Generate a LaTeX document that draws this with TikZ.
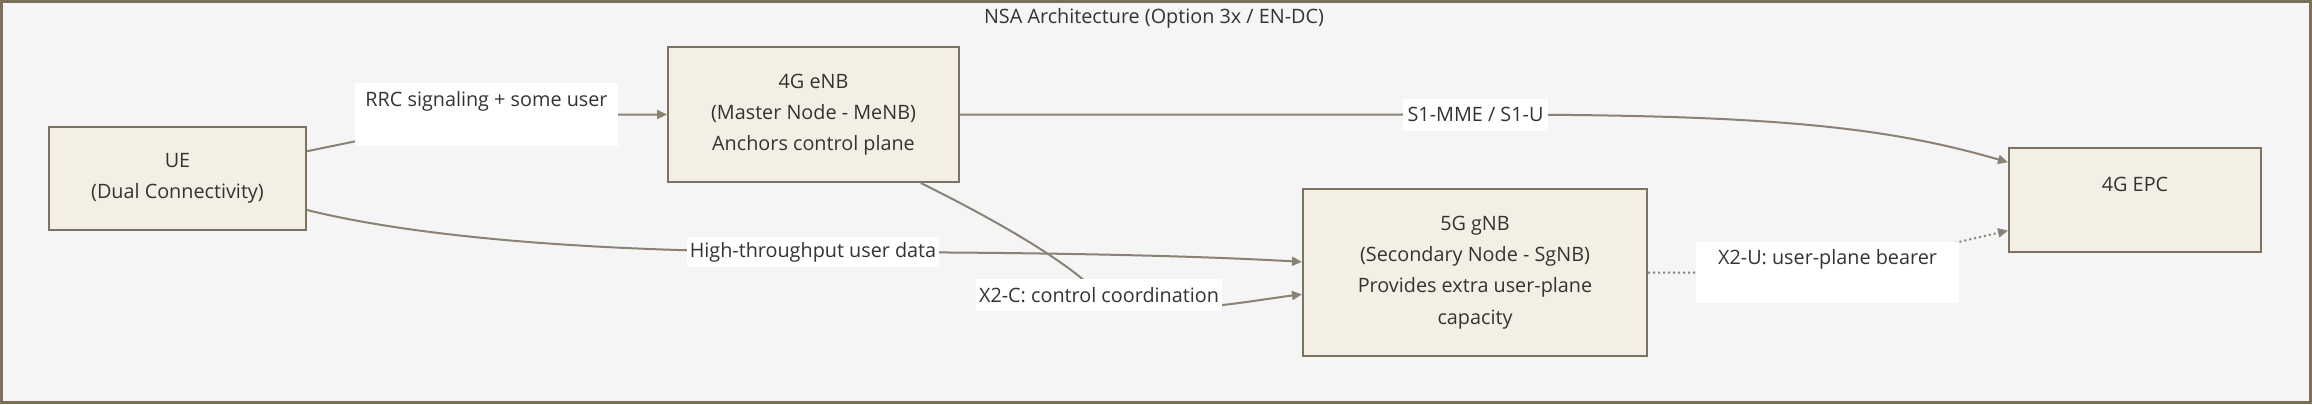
\documentclass[tikz,border=0pt]{standalone}
\usepackage{fontspec}
\setmainfont{Open Sans}
\usetikzlibrary{arrows.meta, positioning, calc}
\definecolor{frameline}{HTML}{7B6F5A}
\definecolor{canvas}{HTML}{F5F5F5}
\definecolor{boxfill}{HTML}{F3EFE4}
\definecolor{boxline}{HTML}{7D7260}
\definecolor{edgeline}{HTML}{8A8275}
\definecolor{labeltext}{HTML}{333333}

\begin{document}
\begin{tikzpicture}[
    x=0.5pt, y=-0.5pt,
    every node/.style={font=\fontsize{9.9}{15.6}\selectfont, text=labeltext},
    box/.style={rectangle, draw=boxline, line width=1pt, fill=boxfill, inner sep=0pt, align=center},
    lbl/.style={rectangle, fill=white, inner sep=0pt, align=center},
    arrow/.style={-{Triangle[length=5pt, width=4.5pt]}, line width=1pt, draw=edgeline},
    dotarrow/.style={arrow, dash pattern=on 1pt off 1.5pt}
]
    \useasboundingbox (0,0) rectangle (2312,404);
    \draw[frameline, line width=1.5pt, fill=canvas] (1.5,1.5) rectangle (2310.5,402.5);

    % Nodes
    \node (title) at (1154,18) {NSA Architecture (Option 3x / EN-DC)};
    \node[box, minimum width=128.5pt, minimum height=51.5pt] (ue) at (177.5,178.5) {UE\\(Dual Connectivity)};
    \node[box, minimum width=145.5pt, minimum height=67.5pt] (enb) at (813.5,114.5) {4G eNB\\(Master Node - MeNB)\\Anchors control plane};
    \node[box, minimum width=172pt, minimum height=83.5pt] (gnb) at (1475,272.5) {5G gNB\\(Secondary Node - SgNB)\\Provides extra user-plane\\capacity};
    \node[box, minimum width=126pt, minimum height=52pt] (epc) at (2135,200) {4G EPC\\~};

    % Label points
    \coordinate (rrcpt) at (486.5,114.5);
    \coordinate (s1pt) at (1475.5,114.5);
    \coordinate (htpt) at (813,252);
    \coordinate (x2cpt) at (1099,295);
    \coordinate (x2upt) at (1827.5,272.5);

    % Arrows
    \draw[arrow] ($(ue.north east)!0.24!(ue.south east)$) -- (rrcpt)
        node[lbl, minimum width=131.5pt, minimum height=31.5pt] {RRC signaling + some user\\~} -- (enb.west);
    \draw[arrow] (enb.east) -- (s1pt)
        node[lbl, minimum width=72.5pt, minimum height=16pt] {S1-MME / S1-U}
        .. controls (1760,114.5) and (1880,125) .. ($(epc.north west)!0.144!(epc.south west)$);
    \draw[arrow] ($(ue.north east)!0.8!(ue.south east)$) .. controls (420,238) and (600,252) .. (htpt)
        node[lbl, minimum width=126pt, minimum height=15pt] {High-throughput user data}
        .. controls (1050,252) and (1200,256) .. ($(gnb.north west)!0.437!(gnb.south west)$);
    \draw[arrow] ($(enb.south west)!0.866!(enb.south east)$) .. controls (1020,232) and (1080,272) .. (x2cpt)
        node[lbl, minimum width=123pt, minimum height=16pt] {X2-C: control coordination}
        .. controls (1160,320) and (1240,302) .. ($(gnb.north west)!0.629!(gnb.south west)$);
    \draw[dotarrow] (gnb.east) -- (x2upt)
        node[lbl, minimum width=131.5pt, minimum height=30.5pt] {X2-U: user-plane bearer\\~}
        -- ($(epc.north west)!0.788!(epc.south west)$);
\end{tikzpicture}
\end{document}
